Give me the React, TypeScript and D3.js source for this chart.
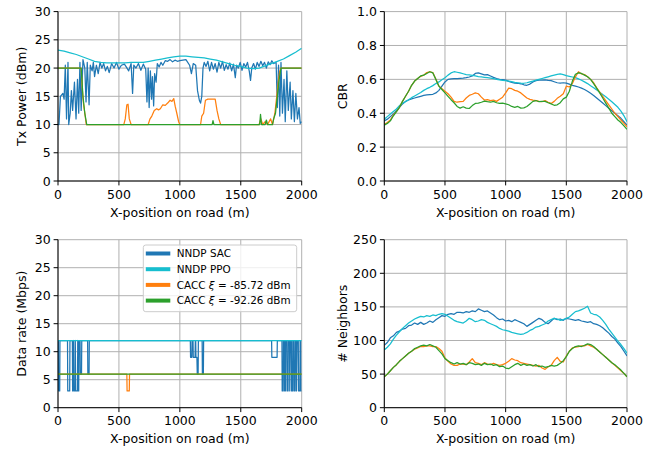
import React from "react";
import * as d3 from "d3";

// sample positions (m) for the smoothly varying series
const xStep = 25;
const xGrid = d3.range(0, 2001, xStep);
const xTicks = [0, 500, 1000, 1500, 2000];

const colors = { sac: "#1f77b4", ppo: "#17becf", cacc1: "#ff7f0e", cacc2: "#2ca02c" };
const legendLabels = ["NNDP SAC", "NNDP PPO", "CACC", "CACC"];
const legendXi = [null, null, "-85.72", "-92.26"];

// ---- Tx power (dBm) ----
const ppoTx = [23.2, 23.0, 22.7, 22.4, 22.0, 21.6, 21.2, 21.0, 20.9, 20.9, 20.9, 20.9, 21.0, 21.0, 21.0, 21.2, 21.4,
  21.6, 21.8, 22.0, 22.1, 22.1, 22.0, 21.9, 21.8, 21.6, 21.4, 21.1, 20.8, 20.5, 20.3, 20.0, 19.9, 20.0, 20.4, 20.8,
  21.2, 21.6, 22.2, 22.8, 23.5]; // every 50 m
const sacTx: [number, number][] = [
  [0, 10], [8, 10], [20, 15], [40, 15.5], [50, 14.5], [60, 20.5], [70, 11], [82, 21], [88, 10], [100, 12], [110, 16],
  [120, 12.5], [135, 17.5], [148, 11], [160, 18], [170, 12], [180, 21], [190, 12.5], [205, 21.5], [220, 20], [230, 14],
  [240, 21], [255, 13.5], [265, 20.5], [280, 19.5], [290, 21], [300, 18.5], [315, 20.5], [330, 19], [345, 21],
  [360, 20], [375, 20.8], [390, 19.5], [405, 20.3], [420, 19.2], [440, 20.8], [460, 20], [480, 21], [500, 19.8],
  [520, 20.5], [545, 20.7], [560, 20.2], [580, 19.5], [600, 20.8], [612, 15.5], [622, 20.5], [640, 20], [660, 20.8],
  [680, 19.6], [700, 20.7], [720, 19.8], [730, 14], [740, 20], [748, 13], [758, 19.5], [768, 14.5], [775, 18.5],
  [785, 13.3], [793, 19], [805, 17.5], [815, 20.8], [830, 20.2], [845, 21], [860, 20.5], [880, 21.3], [900, 21.2],
  [920, 21.5], [940, 21.1], [960, 21.4], [980, 21.2], [1000, 21.3], [1050, 21.5], [1080, 20.5], [1095, 19],
  [1110, 20.8], [1130, 20.5], [1145, 16], [1160, 14.3], [1170, 13.8], [1180, 15], [1190, 20], [1200, 21],
  [1215, 20.3], [1230, 21.2], [1245, 19.5], [1260, 21], [1275, 19.8], [1290, 20.8], [1305, 19.3], [1320, 21],
  [1335, 20], [1350, 21.2], [1365, 19.6], [1380, 20.6], [1395, 19.8], [1410, 20.9], [1425, 19.5], [1440, 20.7],
  [1455, 18.3], [1465, 20.5], [1480, 20], [1495, 21], [1510, 19.6], [1525, 20.8], [1540, 20.2], [1555, 21],
  [1570, 19.4], [1580, 17.8], [1590, 20], [1605, 20.8], [1620, 19.8], [1635, 21], [1650, 20.3], [1665, 21.2],
  [1680, 20.4], [1695, 21], [1710, 20], [1725, 21.1], [1740, 20.6], [1755, 21.3], [1770, 20.8], [1790, 21],
  [1800, 13], [1810, 20.5], [1820, 11.5], [1830, 21], [1842, 12], [1855, 18], [1865, 10.5], [1878, 19.5],
  [1890, 12.5], [1905, 17.5], [1915, 11], [1928, 16], [1940, 10.5], [1952, 15.5], [1965, 11], [1978, 13],
  [1988, 10.2], [2000, 10.5]];
const cacc1Tx: [number, number][] = [
  [0, 20], [190, 20], [200, 16], [210, 13.5], [220, 12], [232, 10], [540, 10], [552, 11], [565, 13.5], [575, 13.6],
  [585, 11], [600, 10], [740, 10], [755, 11], [770, 11.5], [790, 12.5], [810, 12.8], [825, 12.6], [840, 12.8],
  [860, 13.5], [880, 13.4], [900, 13.8], [920, 14.3], [935, 14.1], [950, 14.6], [962, 13.2], [975, 12], [990, 10.5],
  [1000, 10], [1170, 10], [1180, 11.5], [1195, 12], [1210, 14.3], [1230, 14.5], [1260, 14.5], [1290, 14.5],
  [1305, 12.5], [1320, 11], [1335, 10], [1650, 10], [1665, 11], [1680, 10], [1700, 10.5], [1720, 10], [1745, 11],
  [1760, 10], [1780, 12], [1790, 14], [1800, 16], [1810, 18], [1820, 19.5], [1830, 20], [2000, 20]];
const cacc2Tx: [number, number][] = [
  [0, 20], [190, 20], [205, 15], [220, 12], [236, 10], [1265, 10], [1272, 10.7], [1280, 10], [1655, 10],
  [1662, 11.8], [1670, 10], [1700, 10], [1710, 10.8], [1720, 10], [1760, 10], [1770, 11], [1785, 12], [1800, 15],
  [1815, 18], [1830, 20], [2000, 20]];

// ---- CBR ----
const sacCbr = [.355, .365, .38, .395, .415, .435, .455, .47, .478, .485, .49, .495, .5, .505, .508, .51, .512, .52,
  .535, .56, .585, .6, .603, .605, .605, .606, .607, .61, .614, .62, .635, .638, .632, .626, .628, .62, .612, .605, .6,
  .598, .595, .588, .582, .578, .577, .574, .568, .565, .572, .585, .592, .595, .596, .597, .594, .592, .586, .58, .578,
  .58, .578, .572, .565, .56, .555, .548, .54, .53, .518, .505, .49, .475, .46, .445, .43, .415, .4, .385, .37, .35, .33];
const ppoCbr = [.365, .38, .395, .41, .425, .445, .458, .468, .48, .492, .502, .512, .522, .535, .545, .553, .563, .575,
  .585, .598, .61, .625, .638, .645, .642, .638, .633, .628, .626, .624, .62, .616, .614, .612, .61, .607, .604, .6,
  .597, .594, .593, .59, .586, .582, .58, .578, .577, .58, .585, .59, .595, .6, .605, .61, .615, .62, .625, .63, .632,
  .628, .622, .618, .614, .61, .603, .595, .585, .575, .562, .55, .538, .524, .51, .497, .483, .468, .452, .435, .412,
  .385, .35];
const cacc1Cbr = [.335, .345, .36, .39, .41, .435, .47, .5, .53, .565, .59, .605, .618, .625, .64, .645, .64, .6, .56,
  .545, .53, .515, .495, .47, .465, .468, .47, .49, .505, .512, .52, .515, .495, .478, .48, .475, .478, .47, .482, .495,
  .52, .548, .545, .535, .53, .52, .505, .49, .482, .478, .475, .47, .468, .475, .465, .458, .47, .488, .5, .515, .56,
  .555, .575, .615, .645, .632, .628, .615, .6, .58, .55, .525, .5, .475, .45, .425, .4, .38, .36, .34, .32];
const cacc2Cbr = [.33, .34, .355, .385, .41, .435, .47, .5, .53, .565, .59, .605, .62, .625, .635, .645, .638, .6, .56,
  .54, .52, .5, .48, .462, .44, .43, .438, .43, .428, .445, .458, .46, .465, .472, .468, .465, .47, .462, .458, .46,
  .455, .45, .44, .435, .44, .43, .432, .44, .455, .47, .475, .468, .47, .47, .462, .455, .447, .45, .462, .485, .495,
  .53, .59, .63, .638, .635, .625, .615, .6, .575, .548, .52, .49, .46, .43, .4, .38, .36, .345, .325, .305];

// ---- Data rate (Mbps) ----
const sacRate: [number, number][] = [
  [0, 12], [3, 12], [5, 3], [14, 3], [16, 12], [78, 12], [80, 3], [96, 3], [98, 12], [118, 12], [120, 3], [128, 12],
  [130, 3], [140, 3], [142, 12], [145, 3], [160, 3], [162, 12], [165, 3], [170, 3], [172, 12], [181, 12], [183, 6],
  [193, 6], [195, 12], [243, 12], [245, 6], [255, 6], [257, 12], [1086, 12], [1088, 9], [1098, 9], [1100, 12],
  [1108, 12], [1110, 9], [1125, 9], [1127, 12], [1130, 12], [1132, 9], [1140, 9], [1143, 6], [1150, 6], [1152, 12],
  [1183, 12], [1185, 6], [1193, 6], [1195, 12], [1753, 12], [1755, 9], [1798, 9], [1800, 12], [1838, 12], [1840, 3],
  [1848, 3], [1850, 12], [1858, 12], [1860, 3], [1866, 3], [1868, 12], [1878, 12], [1880, 3], [1888, 3], [1890, 12],
  [1900, 12], [1902, 3], [1906, 12], [1915, 12], [1917, 3], [1925, 3], [1927, 12], [1935, 12], [1937, 3], [1945, 3],
  [1947, 12], [1955, 12], [1957, 3], [1962, 12], [1972, 12], [1974, 3], [1985, 3], [1987, 12], [1992, 12], [1994, 3],
  [2000, 3]];
const ppoRate: [number, number][] = [[0, 12], [2000, 12]];
const cacc1Rate: [number, number][] = [[0, 6], [565, 6], [567, 3], [585, 3], [587, 6], [2000, 6]];
const cacc2Rate: [number, number][] = [[0, 6], [2000, 6]];

// ---- # Neighbors ----
const sacNb = [93, 97, 104, 107, 112, 114, 117, 118, 122, 123, 126, 124, 127, 124, 126, 129, 127, 131, 134, 137, 136,
  139, 140, 139, 142, 142, 141, 143, 142, 144, 143, 147, 145, 143, 144, 141, 138, 134, 131, 132, 129, 130, 128, 131,
  129, 127, 125, 121, 124, 127, 130, 133, 131, 127, 125, 129, 133, 131, 132, 130, 133, 132, 131, 130, 131, 129, 128,
  127, 128, 125, 124, 122, 119, 115, 111, 106, 102, 96, 91, 84, 77];
const ppoNb = [86, 90, 95, 102, 108, 113, 118, 122, 126, 129, 132, 134, 136, 135, 137, 136, 138, 137, 139, 140, 139,
  136, 133, 130, 128, 127, 126, 129, 133, 131, 128, 129, 131, 130, 127, 125, 123, 121, 118, 116, 115, 114, 112, 111,
  110, 109, 110, 112, 115, 117, 120, 121, 123, 125, 129, 131, 133, 132, 130, 131, 133, 135, 139, 143, 144, 146, 148,
  151, 141, 139, 138, 135, 130, 124, 117, 111, 105, 99, 94, 88, 81];
const cacc1Nb = [46, 50, 55, 60, 64, 69, 73, 77, 81, 84, 87, 89, 91, 91, 92, 92, 91, 91, 88, 84, 74, 69, 65, 63, 63,
  65, 65, 64, 68, 73, 67, 66, 64, 67, 65, 64, 66, 64, 63, 64, 66, 69, 73, 71, 70, 67, 66, 65, 64, 63, 62, 63, 59, 57,
  61, 63, 70, 75, 69, 68, 77, 84, 89, 90, 91, 92, 92, 94, 92, 90, 87, 83, 79, 75, 71, 67, 63, 59, 55, 51, 46];
const cacc2Nb = [46, 50, 55, 60, 64, 69, 73, 77, 81, 84, 88, 90, 92, 93, 92, 94, 92, 90, 85, 80, 73, 70, 67, 65, 67,
  65, 66, 64, 67, 66, 64, 65, 63, 66, 64, 65, 63, 64, 61, 62, 59, 58, 61, 64, 66, 63, 65, 63, 64, 62, 64, 61, 62, 60,
  61, 63, 62, 63, 66, 70, 76, 84, 88, 91, 92, 91, 93, 95, 94, 91, 87, 83, 79, 75, 71, 67, 64, 60, 56, 51, 46];

const onGrid = (vals: number[], step = xStep): [number, number][] => vals.map((v, i) => [i * step, v]);

const FONT = "DejaVu Sans, sans-serif";
const FS = 12.5;

type Series = { color: string; pts: [number, number][] };

function Panel(props: {
  id: string; left: number; right: number; top: number; bottom: number;
  yMax: number; yTicks: number[]; fmt: (v: number) => string; ylabel: string; labelX: number; series: Series[];
}) {
  const { id, left, right, top, bottom, yMax, yTicks, fmt, ylabel, labelX, series } = props;
  const x = d3.scaleLinear().domain([0, 2000]).range([left, right]);
  const y = d3.scaleLinear().domain([0, yMax]).range([bottom, top]);
  const line = d3.line<[number, number]>().x(d => x(d[0])).y(d => y(d[1]));
  const tick = 4.4;
  return (
    <g>
      <defs>
        <clipPath id={id}>
          <rect x={left} y={top} width={right - left} height={bottom - top} />
        </clipPath>
      </defs>
      {xTicks.map(t => (
        <line key={"gx" + t} x1={x(t)} x2={x(t)} y1={top} y2={bottom} stroke="#b0b0b0" strokeWidth={1} />
      ))}
      {yTicks.map(t => (
        <line key={"gy" + t} x1={left} x2={right} y1={y(t)} y2={y(t)} stroke="#b0b0b0" strokeWidth={1} />
      ))}
      <g clipPath={`url(#${id})`}>
        {series.map((s, i) => (
          <path key={i} d={line(s.pts) || ""} fill="none" stroke={s.color} strokeWidth={1.25} strokeLinejoin="round" />
        ))}
      </g>
      <line x1={left} x2={left} y1={top} y2={bottom} stroke="black" strokeWidth={1} />
      <line x1={left} x2={right} y1={bottom} y2={bottom} stroke="black" strokeWidth={1} />
      {yTicks.map(t => (
        <g key={"ty" + t}>
          <line x1={left - tick} x2={left} y1={y(t)} y2={y(t)} stroke="black" strokeWidth={1} />
          <text x={left - tick - 3} y={y(t)} dy="0.36em" textAnchor="end" fontSize={FS} fontFamily={FONT}>{fmt(t)}</text>
        </g>
      ))}
      {xTicks.map(t => (
        <g key={"tx" + t}>
          <line x1={x(t)} x2={x(t)} y1={bottom} y2={bottom + tick} stroke="black" strokeWidth={1} />
          <text x={x(t)} y={bottom + 17.5} textAnchor="middle" fontSize={FS} fontFamily={FONT}>{t}</text>
        </g>
      ))}
      <text x={(left + right) / 2} y={bottom + 35.5} textAnchor="middle" fontSize={FS} fontFamily={FONT}>
        X-position on road (m)
      </text>
      <text transform={`translate(${labelX},${(top + bottom) / 2}) rotate(-90)`} textAnchor="middle"
        fontSize={FS} fontFamily={FONT}>{ylabel}</text>
    </g>
  );
}

function Legend({ x0, y0 }: { x0: number; y0: number }) {
  const cols = [colors.sac, colors.ppo, colors.cacc1, colors.cacc2];
  const fs = 10.4;
  return (
    <g>
      <rect x={x0} y={y0} width={153.4} height={66.7} rx={2.5} fill="white" fillOpacity={0.8}
        stroke="#cccccc" strokeWidth={1} />
      {cols.map((c, i) => {
        const cy = y0 + 8.5 + i * 15.7;
        return (
          <g key={i}>
            <line x1={x0 + 2.5} x2={x0 + 27} y1={cy} y2={cy} stroke={c} strokeWidth={4} />
            <text x={x0 + 33.5} y={cy} dy="0.36em" fontSize={fs} fontFamily={FONT}>
              {legendLabels[i]}
              {legendXi[i] && (
                <>
                  {" "}<tspan fontStyle="italic">ξ</tspan>{` = ${legendXi[i]} dBm`}
                </>
              )}
            </text>
          </g>
        );
      })}
    </g>
  );
}

export default function App() {
  const L = { left: 58, right: 301.7 };
  const R = { left: 384.3, right: 627 };
  const T = { top: 11.6, bottom: 181 };
  const B = { top: 239.7, bottom: 407.7 };
  const int = (v: number) => String(v);
  return (
    <svg width={658} height={449} style={{ position: "absolute", left: 0, top: 0 }}>
      <rect width={658} height={449} fill="white" />
      <Panel id="c1" {...L} {...T} yMax={30} yTicks={[0, 5, 10, 15, 20, 25, 30]} fmt={int}
        ylabel="Tx Power (dBm)" labelX={26}
        series={[
          { color: colors.sac, pts: sacTx },
          { color: colors.ppo, pts: onGrid(ppoTx, 50) },
          { color: colors.cacc1, pts: cacc1Tx },
          { color: colors.cacc2, pts: cacc2Tx },
        ]} />
      <Panel id="c2" {...R} {...T} yMax={1} yTicks={[0, 0.2, 0.4, 0.6, 0.8, 1.0]} fmt={d3.format(".1f")}
        ylabel="CBR" labelX={347}
        series={[
          { color: colors.sac, pts: onGrid(sacCbr) },
          { color: colors.ppo, pts: onGrid(ppoCbr) },
          { color: colors.cacc1, pts: onGrid(cacc1Cbr) },
          { color: colors.cacc2, pts: onGrid(cacc2Cbr) },
        ]} />
      <Panel id="c3" {...L} {...B} yMax={30} yTicks={[0, 5, 10, 15, 20, 25, 30]} fmt={int}
        ylabel="Data rate (Mbps)" labelX={26}
        series={[
          { color: colors.sac, pts: sacRate },
          { color: colors.ppo, pts: ppoRate },
          { color: colors.cacc1, pts: cacc1Rate },
          { color: colors.cacc2, pts: cacc2Rate },
        ]} />
      <Panel id="c4" {...R} {...B} yMax={250} yTicks={[0, 50, 100, 150, 200, 250]} fmt={int}
        ylabel="# Neighbors" labelX={347}
        series={[
          { color: colors.sac, pts: onGrid(sacNb) },
          { color: colors.ppo, pts: onGrid(ppoNb) },
          { color: colors.cacc1, pts: onGrid(cacc1Nb) },
          { color: colors.cacc2, pts: onGrid(cacc2Nb) },
        ]} />
      <Legend x0={143.3} y0={245} />
    </svg>
  );
}
